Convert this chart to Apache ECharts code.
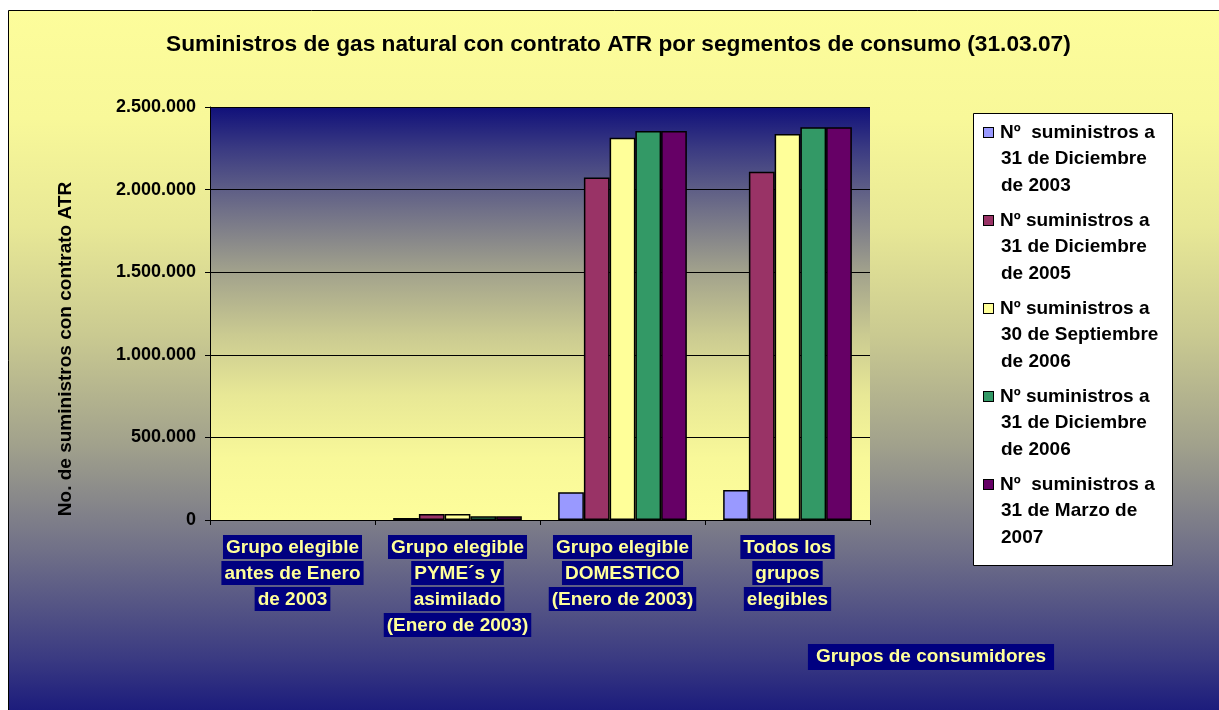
<!DOCTYPE html>
<html>
<head>
<meta charset="utf-8">
<script src="https://cdn.jsdelivr.net/npm/echarts@6/dist/echarts.min.js"></script>
<style>
html,body{margin:0;padding:0;background:#fff;}
#chart{width:1219px;height:710px;}
</style>
</head>
<body>
<div id="chart"></div>
<script>
// ---- data ----
var categories = [
  'Grupo elegible\nantes de Enero\nde 2003',
  'Grupo elegible\nPYME´s y\nasimilado\n(Enero de 2003)',
  'Grupo elegible\nDOMESTICO\n(Enero de 2003)',
  'Todos los\ngrupos\nelegibles'
];
var seriesNames = [
  'Nº  suministros a\n31 de Diciembre\nde 2003',
  'Nº suministros a\n31 de Diciembre\nde 2005',
  'Nº suministros a\n30 de Septiembre\nde 2006',
  'Nº suministros a\n31 de Diciembre\nde 2006',
  'Nº  suministros a\n31 de Marzo de\n2007'
];
var dic2003 = [null, 12000, 168000, 182000];
var dic2005 = [null, 36000, 2074000, 2108000];
var sep2006 = [null, 36000, 2314000, 2336000];
var dic2006 = [null, 22000, 2355000, 2378000];
var mar2007 = [null, 22000, 2355000, 2378000];
var seriesValues = [dic2003, dic2005, sep2006, dic2006, mar2007];
var seriesColors = ['#9999FF', '#993366', '#FFFF99', '#339966', '#660066'];
var yTicks = [0, 500000, 1000000, 1500000, 2000000, 2500000];

var FONT = '"Liberation Sans", Arial, sans-serif';

function fmtThousands(v) {
  return String(v).replace(/\B(?=(\d{3})+(?!\d))/g, '.');
}

var legendRich = {
  t: {fontSize: 19, fontWeight: 'bold', fontFamily: FONT, color: '#000', lineHeight: 26.5, padding: [0, 0, 0, 7]},
  i: {fontSize: 19, fontWeight: 'bold', fontFamily: FONT, color: '#000', lineHeight: 26.5, padding: [0, 0, 0, 17]}
};
seriesColors.forEach(function (c, k) {
  legendRich['m' + k] = {width: 9, height: 9, backgroundColor: c, borderColor: '#000', borderWidth: 1, lineHeight: 26.5};
});

var bgStops = [
  {offset: 0, color: '#FDFD9B'},
  {offset: 0.15, color: '#F8F899'},
  {offset: 0.3, color: '#E8E896'},
  {offset: 0.45, color: '#CACA91'},
  {offset: 0.6, color: '#A2A28C'},
  {offset: 0.75, color: '#707088'},
  {offset: 0.9, color: '#3A3A82'},
  {offset: 1, color: '#10107A'}
];
var plotStops = bgStops.map(function (s) { return {offset: 1 - s.offset, color: s.color}; }).reverse();

var chart = echarts.init(document.getElementById('chart'), null, {renderer: 'canvas'});
var option = {
  backgroundColor: '#ffffff',
  animation: false,
  textStyle: {fontFamily: FONT},
  graphic: [
    {
      type: 'rect', z: -10, silent: true,
      shape: {x: 8.5, y: 10.5, width: 1230, height: 720},
      style: {
        fill: new echarts.graphic.LinearGradient(0, 0, 0, 1, bgStops),
        stroke: '#000', lineWidth: 1
      }
    },
    {
      type: 'rect', z: 5, silent: true,
      shape: {x: 973.5, y: 113.5, width: 199, height: 452},
      style: {fill: '#ffffff', stroke: '#000', lineWidth: 1}
    }
  ],
  title: {
    text: 'Suministros de gas natural con contrato ATR por segmentos de consumo (31.03.07)',
    left: 166, top: 33, padding: 0,
    textStyle: {fontSize: 22.7, fontWeight: 'bold', color: '#000', fontFamily: FONT}
  },
  legend: {
    orient: 'vertical',
    left: 977, top: 123, padding: 0, z: 10,
    itemWidth: 1, itemHeight: 1, itemGap: 16,
    icon: 'rect',
    itemStyle: {opacity: 0},
    data: seriesNames,
    textStyle: {fontSize: 19, fontWeight: 'bold', color: '#000', fontFamily: FONT, rich: legendRich},
    formatter: function (name) {
      var k = seriesNames.indexOf(name);
      var lines = name.split('\n');
      var out = '{m' + k + '|}{t|' + lines[0] + '}';
      for (var j = 1; j < lines.length; j++) out += '\n{i|' + lines[j] + '}';
      return out;
    }
  },
  grid: {
    left: 210, right: 349, top: 107, bottom: 190,
    show: true, borderWidth: 0,
    backgroundColor: new echarts.graphic.LinearGradient(0, 0, 0, 1, plotStops)
  },
  xAxis: {
    type: 'category',
    data: categories,
    name: '{pad|}{n|Grupos de consumidores}',
    nameLocation: 'middle',
    nameGap: 124,
    nameTextStyle: {
      rich: {
        pad: {width: 782, height: 10},
        n: {fontSize: 19, fontWeight: 'bold', fontFamily: FONT, color: '#FFFF99', backgroundColor: '#000080', padding: [3, 8, 4, 8], lineHeight: 26}
      }
    },
    axisLine: {lineStyle: {color: '#000', width: 1}},
    axisTick: {show: true, length: 5, lineStyle: {color: '#000'}},
    axisLabel: {
      interval: 0, margin: 14,
      formatter: function (v) {
        return v.split('\n').map(function (l) { return '{c|' + l + '}'; }).join('\n');
      },
      rich: {
        c: {fontSize: 19, fontWeight: 'bold', fontFamily: FONT, color: '#FFFF99', backgroundColor: '#000080', padding: [3, 3, 2, 3], lineHeight: 26}
      }
    },
    splitLine: {show: false}
  },
  yAxis: {
    type: 'value',
    min: yTicks[0], max: yTicks[yTicks.length - 1], interval: yTicks[1] - yTicks[0],
    name: 'No. de suministros con contrato ATR',
    nameLocation: 'middle',
    nameRotate: 90,
    nameGap: 135,
    nameTextStyle: {fontSize: 19, fontWeight: 'bold', color: '#000', fontFamily: FONT, padding: [0, 71, 0, 0]},
    axisLine: {show: true, lineStyle: {color: '#000', width: 1}},
    axisTick: {show: true, length: 5, lineStyle: {color: '#000'}},
    axisLabel: {
      margin: 14, fontSize: 18, fontWeight: 'bold', color: '#000', fontFamily: FONT,
      formatter: function (v) { return fmtThousands(v); }
    },
    splitLine: {show: true, lineStyle: {color: '#000', width: 1}}
  },
  series: seriesNames.map(function (n, k) {
    return {
      name: n,
      type: 'bar',
      data: seriesValues[k],
      barGap: 0,
      barCategoryGap: '22%',
      itemStyle: {color: seriesColors[k], borderColor: '#000', borderWidth: 1.5}
    };
  })
};
chart.setOption(option);
</script>
</body>
</html>
